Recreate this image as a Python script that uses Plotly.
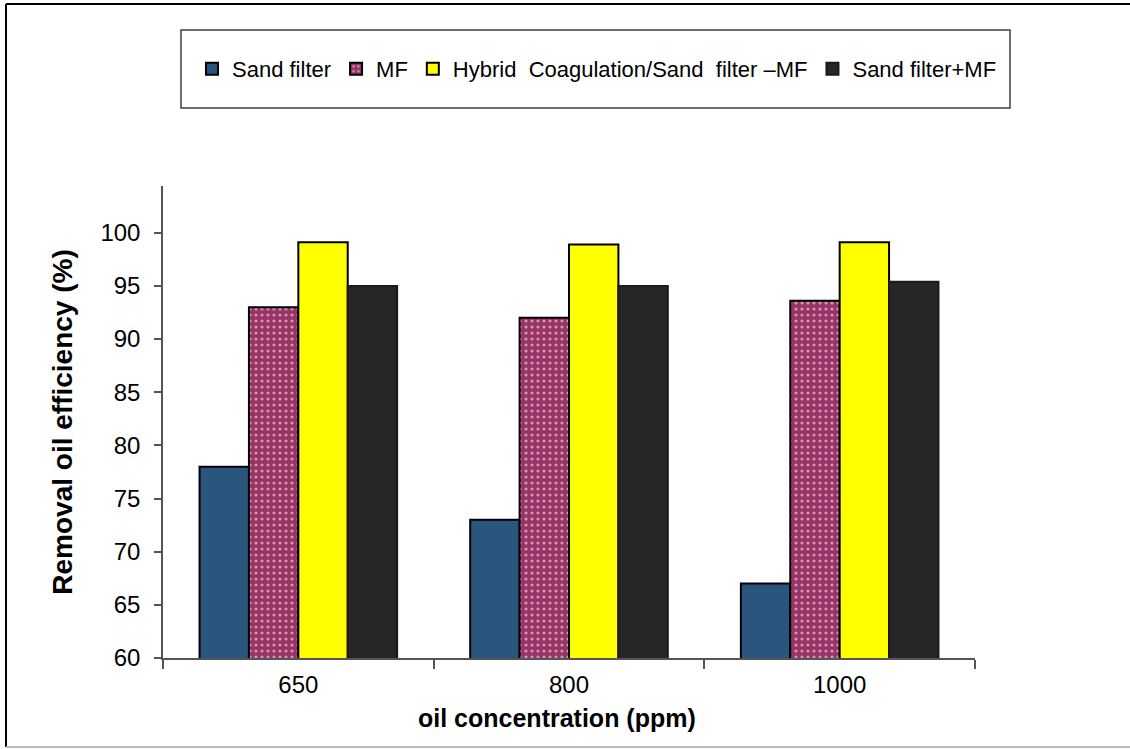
import plotly.graph_objects as go

# Oil concentration groups (ppm)
categories = ["650", "800", "1000"]

# Removal oil efficiency (%) per treatment
sand_filter = [78, 73, 67]
mf = [93, 92, 93.6]
hybrid = [99.1, 98.9, 99.1]
sand_filter_mf = [95, 95, 95.4]

series_names = ["Sand filter", "MF", "Hybrid  Coagulation/Sand  filter \u2013MF", "Sand filter+MF"]

y_ticks = [60, 65, 70, 75, 80, 85, 90, 95, 100]

FONT = "Liberation Sans, Arial, sans-serif"

fig = go.Figure()
outline = dict(color="black", width=2)

fig.add_trace(go.Bar(x=categories, y=sand_filter, name=series_names[0],
                     marker=dict(color="#2A567D", line=outline)))
fig.add_trace(go.Bar(x=categories, y=mf, name=series_names[1],
                     marker=dict(color="#993366", line=outline,
                                 pattern=dict(shape=".", fgcolor="white",
                                              bgcolor="#993366", size=6,
                                              solidity=0.22))))
fig.add_trace(go.Bar(x=categories, y=hybrid, name=series_names[2],
                     marker=dict(color="#FFFF00", line=outline)))
fig.add_trace(go.Bar(x=categories, y=sand_filter_mf, name=series_names[3],
                     marker=dict(color="#262626", line=dict(color="#1A1A1A", width=2))))

# plot area in pixels: x 163..975, y 186..658
L, R, T, B = 163, 975, 186, 658
W, H = 1130, 749


def px(x):
    return (x - L) / (R - L)


def py(y):
    return (B - y) / (B - T)


shapes = [
    # legend frame
    dict(type="rect", xref="paper", yref="paper",
         x0=px(181), x1=px(1010), y0=py(108), y1=py(30),
         line=dict(color="#404040", width=1.5)),
    # outer chart frame
    dict(type="line", xref="paper", yref="paper",
         x0=px(6), x1=px(1135), y0=py(4), y1=py(4),
         line=dict(color="black", width=2)),
    dict(type="line", xref="paper", yref="paper",
         x0=px(6), x1=px(6), y0=py(4), y1=py(747),
         line=dict(color="black", width=2)),
    dict(type="line", xref="paper", yref="paper",
         x0=px(6), x1=px(1135), y0=py(747), y1=py(747),
         line=dict(color="#BBBBBB", width=2)),
]

# x-axis title, set slightly left of the plot centre
annotations = [
    dict(text="<b>oil concentration (ppm)</b>", xref="paper", yref="paper",
         x=px(557), y=py(718), xanchor="center", yanchor="middle",
         showarrow=False, font=dict(family=FONT, size=25, color="black")),
]

fig.update_layout(
    width=W, height=H,
    margin=dict(l=L, r=W - R, t=T, b=H - B),
    paper_bgcolor="white", plot_bgcolor="white",
    barmode="group", bargap=0.27, bargroupgap=0,
    font=dict(family=FONT, size=24, color="black"),
    shapes=shapes,
    annotations=annotations,
    legend=dict(orientation="h", x=px(192), y=py(69),
                xanchor="left", yanchor="middle",
                font=dict(family=FONT, size=22, color="black"),
                itemwidth=30, traceorder="normal",
                bgcolor="rgba(0,0,0,0)"),
    xaxis=dict(showline=True, linecolor="#555555", linewidth=1.5,
               ticks="outside", tickson="boundaries", ticklen=9,
               tickcolor="#555555", tickwidth=1.5, ticklabelstandoff=4,
               tickfont=dict(family=FONT, size=24)),
    yaxis=dict(range=[60, 104.4], tickvals=y_ticks, showgrid=False,
               zeroline=False, showline=True, linecolor="#555555",
               linewidth=1.5, ticks="outside", ticklen=7,
               tickcolor="#555555", tickwidth=1.5, ticklabelstandoff=9,
               tickfont=dict(family=FONT, size=24),
               title=dict(text="<b>Removal oil efficiency (%)</b>",
                          font=dict(family=FONT, size=28), standoff=20)),
)

fig.write_html("out.html")
